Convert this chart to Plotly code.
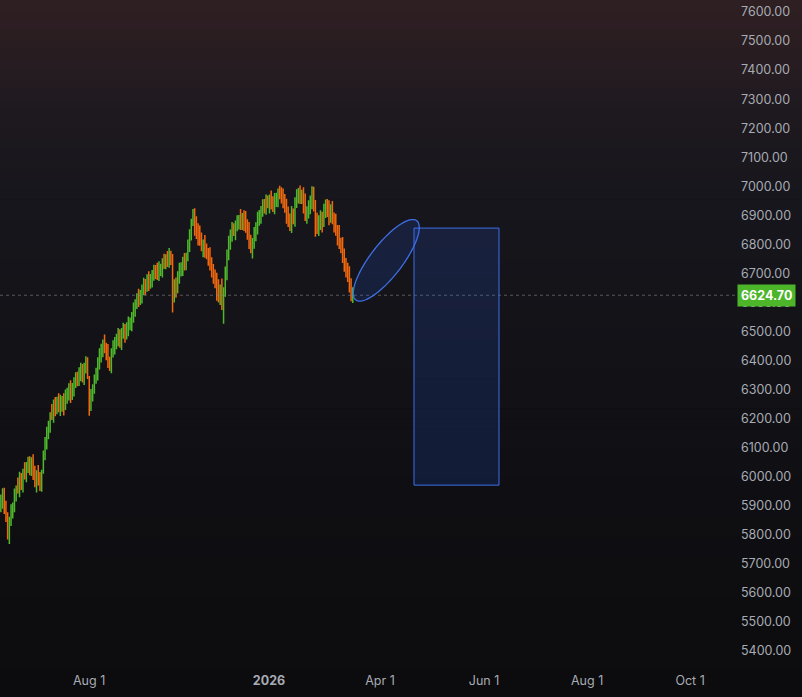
import numpy as np
import plotly.graph_objects as go

# ---------------- data ----------------
bar_index = list(range(208))

opens = [5900, 5920, 5935, 5885, 5860, 5800, 5850, 5880, 5900, 5945, 5970, 5955, 5995, 5980, 6020, 6005, 6035, 6050, 6020, 6045,
         6020, 5980, 6010, 5995, 5970, 6030, 6075, 6120, 6150, 6185, 6220, 6210, 6250, 6235, 6260, 6235, 6245, 6265, 6250, 6275,
         6280, 6300, 6285, 6310, 6325, 6340, 6330, 6355, 6370, 6350, 6375, 6390, 6330, 6255, 6280, 6310, 6340, 6355, 6395, 6415,
         6445, 6460, 6440, 6430, 6395, 6390, 6430, 6445, 6465, 6475, 6490, 6470, 6495, 6505, 6490, 6510, 6525, 6535, 6550, 6575,
         6595, 6615, 6612, 6630, 6645, 6660, 6655, 6675, 6668, 6685, 6695, 6708, 6710, 6700, 6712, 6720, 6738, 6738, 6750, 6745,
         6760, 6745, 6620, 6665, 6650, 6690, 6710, 6725, 6740, 6735, 6760, 6800, 6835, 6885, 6900, 6870, 6855, 6835, 6820, 6790,
         6800, 6785, 6765, 6760, 6735, 6700, 6695, 6680, 6650, 6615, 6650, 6590, 6640, 6710, 6765, 6805, 6835, 6855, 6848, 6865,
         6875, 6890, 6870, 6895, 6885, 6865, 6845, 6815, 6785, 6805, 6835, 6860, 6885, 6905, 6915, 6935, 6928, 6950, 6940, 6955,
         6945, 6930, 6950, 6962, 6980, 6978, 6960, 6955, 6935, 6900, 6885, 6865, 6905, 6895, 6945, 6965, 6985, 6960, 6975, 6945,
         6895, 6915, 6925, 6955, 6985, 6935, 6885, 6855, 6875, 6890, 6880, 6915, 6935, 6920, 6895, 6925, 6890, 6875, 6845, 6835,
         6805, 6795, 6765, 6735, 6715, 6695, 6665, 6610]

highs = [5939, 5960, 5962, 5917, 5878, 5862, 5905, 5911, 5959, 5970, 5997, 6017, 6013, 6027, 6050, 6051, 6069, 6070, 6067, 6077,
         6038, 6022, 6040, 6016, 6024, 6090, 6137, 6172, 6193, 6222, 6250, 6266, 6274, 6275, 6287, 6282, 6278, 6287, 6300, 6306,
         6322, 6332, 6323, 6342, 6360, 6361, 6377, 6392, 6388, 6392, 6415, 6411, 6347, 6302, 6318, 6352, 6375, 6411, 6442, 6458,
         6472, 6490, 6461, 6457, 6413, 6442, 6470, 6481, 6492, 6512, 6508, 6512, 6530, 6526, 6532, 6552, 6548, 6567, 6600, 6611,
         6632, 6647, 6643, 6662, 6685, 6681, 6697, 6707, 6698, 6712, 6730, 6729, 6737, 6742, 6733, 6752, 6768, 6766, 6777, 6787,
         6778, 6767, 6680, 6686, 6707, 6737, 6738, 6757, 6770, 6771, 6817, 6852, 6888, 6922, 6924, 6897, 6873, 6865, 6841, 6817,
         6832, 6803, 6787, 6790, 6756, 6732, 6713, 6702, 6680, 6662, 6682, 6652, 6724, 6782, 6830, 6851, 6877, 6873, 6882, 6900,
         6901, 6922, 6908, 6917, 6915, 6886, 6877, 6833, 6822, 6860, 6876, 6912, 6918, 6932, 6955, 6956, 6972, 6968, 6972, 6985,
         6966, 6977, 6978, 6992, 7002, 6997, 6992, 6973, 6957, 6930, 6906, 6932, 6923, 6962, 6990, 6994, 7003, 6988, 6997, 6975,
         6931, 6952, 6968, 7000, 6998, 6953, 6909, 6900, 6917, 6912, 6940, 6954, 6956, 6952, 6938, 6949, 6910, 6905, 6867, 6867,
         6823, 6825, 6786, 6753, 6737, 6725, 6683, 6652]

lows = [5878, 5890, 5872, 5844, 5784, 5768, 5830, 5856, 5878, 5915, 5942, 5929, 5954, 5946, 5990, 5981, 6013, 6005, 6002, 5989,
        5964, 5946, 5970, 5951, 5948, 6010, 6057, 6094, 6129, 6151, 6195, 6186, 6208, 6215, 6222, 6209, 6224, 6211, 6230, 6251,
        6262, 6254, 6264, 6276, 6305, 6311, 6312, 6329, 6324, 6316, 6355, 6336, 6210, 6226, 6259, 6286, 6320, 6331, 6369, 6393,
        6411, 6425, 6401, 6374, 6364, 6356, 6410, 6421, 6439, 6449, 6444, 6436, 6475, 6461, 6472, 6484, 6504, 6501, 6530, 6551,
        6577, 6584, 6591, 6596, 6625, 6626, 6637, 6639, 6647, 6651, 6675, 6681, 6677, 6674, 6691, 6686, 6715, 6714, 6722, 6719,
        6729, 6565, 6600, 6616, 6632, 6664, 6689, 6691, 6710, 6711, 6742, 6774, 6813, 6863, 6830, 6818, 6796, 6795, 6776, 6756,
        6754, 6749, 6726, 6710, 6686, 6664, 6649, 6606, 6600, 6591, 6574, 6527, 6620, 6676, 6745, 6781, 6809, 6829, 6814, 6845,
        6851, 6849, 6849, 6846, 6840, 6816, 6784, 6769, 6751, 6785, 6811, 6834, 6864, 6871, 6895, 6906, 6902, 6924, 6906, 6920,
        6911, 6904, 6929, 6928, 6955, 6941, 6924, 6909, 6871, 6860, 6846, 6839, 6869, 6861, 6925, 6941, 6939, 6939, 6906, 6880,
        6871, 6889, 6904, 6921, 6913, 6826, 6836, 6829, 6849, 6841, 6860, 6891, 6894, 6866, 6874, 6869, 6841, 6830, 6796, 6784,
        6769, 6736, 6706, 6686, 6670, 6634, 6604, 6598]

closes = [5915, 5940, 5890, 5870, 5805, 5840, 5875, 5890, 5935, 5950, 5960, 5985, 5975, 6005, 6010, 6030, 6045, 6025, 6040, 6015,
          5985, 6000, 5990, 5975, 6000, 6070, 6110, 6140, 6175, 6200, 6215, 6245, 6230, 6255, 6240, 6250, 6260, 6245, 6270, 6285,
          6295, 6280, 6305, 6320, 6330, 6335, 6350, 6360, 6345, 6370, 6385, 6360, 6240, 6275, 6300, 6330, 6345, 6390, 6410, 6440,
          6450, 6445, 6425, 6400, 6385, 6420, 6440, 6460, 6470, 6480, 6465, 6490, 6500, 6485, 6505, 6520, 6530, 6545, 6570, 6590,
          6605, 6610, 6625, 6640, 6655, 6650, 6670, 6665, 6680, 6690, 6700, 6705, 6695, 6710, 6715, 6730, 6735, 6745, 6740, 6755,
          6750, 6585, 6650, 6640, 6680, 6705, 6720, 6735, 6730, 6750, 6790, 6820, 6870, 6890, 6860, 6845, 6830, 6815, 6800, 6795,
          6780, 6770, 6760, 6730, 6710, 6690, 6670, 6640, 6620, 6640, 6600, 6620, 6700, 6760, 6800, 6830, 6845, 6850, 6860, 6870,
          6880, 6875, 6890, 6880, 6860, 6840, 6810, 6790, 6800, 6830, 6855, 6880, 6900, 6910, 6925, 6930, 6940, 6945, 6950, 6940,
          6935, 6945, 6960, 6970, 6975, 6965, 6950, 6930, 6905, 6880, 6870, 6900, 6890, 6940, 6960, 6975, 6965, 6970, 6940, 6900,
          6910, 6920, 6950, 6975, 6940, 6880, 6860, 6870, 6885, 6875, 6910, 6930, 6915, 6900, 6920, 6895, 6870, 6850, 6830, 6810,
          6790, 6760, 6740, 6710, 6690, 6660, 6630, 6624.70]

last_price = 6624.70

x_tick_positions = [51.9, 157.7, 223.0, 284.2, 344.8, 405.4]
x_tick_labels = ["Aug 1", "<b>2026</b>", "Apr 1", "Jun 1", "Aug 1", "Oct 1"]

y_tick_values = [5400, 5500, 5600, 5700, 5800, 5900, 6000, 6100, 6200, 6300, 6400, 6500,
                 6600, 6700, 6800, 6900, 7000, 7100, 7200, 7300, 7400, 7500, 7600]
y_tick_labels = ["5400.00", "5500.00", "5600.00", "5700.00", "5800.00", "5900.00", "6000.00", "6100.00",
                 "6200.00", "6300.00", "6400.00", "6500.00", "6600.00", "6700.00", "6800.00", "6900.00",
                 "7000.00", "7100.00", "7200.00", "7300.00", "7400.00", "7500.00", "7600.00"]

# drawings (bar index, price)
ellipse_center = (226.7, 6745)
ellipse_axis_a = (17.9, 136.4)     # semi-major axis vector
ellipse_axis_b = (7.5, -33.6)      # semi-minor (conjugate) axis vector
rect_x = (243.0, 293.0)
rect_y = (5971, 6856)

# ---------------- styling ----------------
GREEN = "#4fb82c"
ORANGE = "#f2680f"
LABEL_COLOR = "#a8abb3"
FONT = "Inter"

fig = go.Figure()
fig.add_trace(go.Ohlc(
    x=bar_index, open=opens, high=highs, low=lows, close=closes,
    increasing=dict(line=dict(color=GREEN, width=1.5)),
    decreasing=dict(line=dict(color=ORANGE, width=1.5)),
    tickwidth=0.35, hoverinfo="skip", showlegend=False,
))

# background gradient strips (paper coords)
W, H_total, plot_h = 802, 697, 667
stops_y = [0, 50, 120, 200, 350, 500, 697]
stops_c = [(47, 31, 34), (40, 29, 33), (29, 25, 31), (23, 22, 28), (18, 18, 23), (15, 15, 19), (12, 12, 14)]
shapes = []
n_strips = 70
for k in range(n_strips):
    y0px = H_total * k / n_strips
    y1px = H_total * (k + 1) / n_strips
    ym = (y0px + y1px) / 2
    col = [int(round(np.interp(ym, stops_y, [c[j] for c in stops_c]))) for j in range(3)]
    shapes.append(dict(type="rect", xref="paper", yref="paper", layer="below",
                       x0=-0.02, x1=1.12,
                       y0=1 - (y1px + 0.6) / plot_h, y1=1 - y0px / plot_h,
                       line=dict(width=0), fillcolor=f"rgb({col[0]},{col[1]},{col[2]})"))

# last price dotted line
shapes.append(dict(type="line", xref="paper", yref="y", x0=0, x1=1, y0=last_price, y1=last_price,
                   line=dict(color="rgba(140,140,150,0.55)", width=1, dash="dot")))

# ellipse drawing
t = np.linspace(0, 2 * np.pi, 120)
ex = ellipse_center[0] + ellipse_axis_a[0] * np.cos(t) + ellipse_axis_b[0] * np.sin(t)
ey = ellipse_center[1] + ellipse_axis_a[1] * np.cos(t) + ellipse_axis_b[1] * np.sin(t)
path = "M " + " L ".join(f"{a:.3f},{b:.3f}" for a, b in zip(ex, ey)) + " Z"
shapes.append(dict(type="path", xref="x", yref="y", path=path,
                   line=dict(color="#3f6fe6", width=1.3), fillcolor="rgba(41,98,255,0.15)"))

# rectangle drawing
shapes.append(dict(type="rect", xref="x", yref="y", x0=rect_x[0], x1=rect_x[1], y0=rect_y[0], y1=rect_y[1],
                   line=dict(color="#3d6ee8", width=1), fillcolor="rgba(41,98,255,0.15)"))

fig.update_layout(
    width=802, height=697,
    margin=dict(l=0, r=66, t=0, b=30),
    paper_bgcolor="#0c0c0e", plot_bgcolor="rgba(0,0,0,0)",
    shapes=shapes,
    showlegend=False,
    font=dict(family=FONT, size=12.5, color=LABEL_COLOR),
    xaxis=dict(range=[-0.5, 432.4], showgrid=False, zeroline=False, showline=False,
               rangeslider=dict(visible=False), tickmode="array",
               tickvals=x_tick_positions, ticktext=x_tick_labels, ticks="",
               ticklabelstandoff=4,
               tickfont=dict(family=FONT, size=12.5, color=LABEL_COLOR), fixedrange=True),
    yaxis=dict(range=[5344.8, 7641.3], side="right", showgrid=False, zeroline=False, showline=False,
               tickmode="array", tickvals=y_tick_values, ticktext=y_tick_labels, ticks="",
               ticklabelstandoff=4,
               tickfont=dict(family=FONT, size=12.5, color=LABEL_COLOR), fixedrange=True),
    annotations=[dict(xref="paper", yref="y", x=1, y=last_price, xanchor="left", yanchor="middle",
                      xshift=1, text="<b>6624.70</b>", showarrow=False,
                      font=dict(family=FONT, size=12.5, color="#ffffff"),
                      bgcolor="#4cb52a", borderpad=3)],
)

fig.write_html("out.html", config={"displayModeBar": False},
               post_script="document.body.style.margin='0';document.body.style.background='#0c0c0e';")
